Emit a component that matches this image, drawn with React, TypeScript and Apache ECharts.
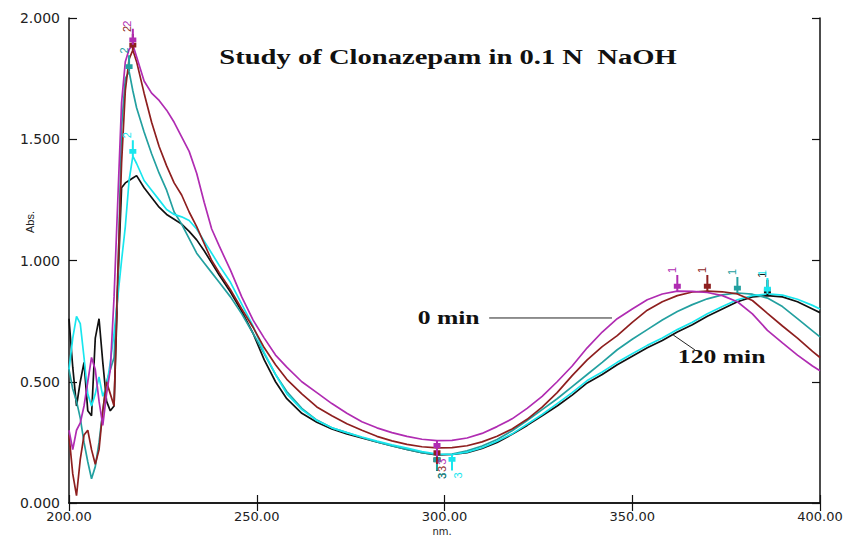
import React, { useEffect, useRef } from "react";
import * as echarts from "echarts";

// Wavelength grid (nm)
const wavelengths = [
  200, 201, 202, 203, 204, 205, 206, 207, 208, 209, 210, 211, 212, 213, 214, 215, 216, 217, 218,
  220, 222, 224, 226, 228, 230, 232, 234, 236, 238, 240,
  243, 246, 249, 252, 255, 258,
  262, 266, 270, 274, 278, 282, 286, 290, 294, 298, 302, 306, 310, 314, 318, 322, 326, 330, 334,
  338, 342, 346, 350, 354, 358, 362, 366, 370, 374, 378, 382, 386, 390, 394, 398,
  400,
];

// Absorbance values
const absMagenta = [
  0.30, 0.22, 0.30, 0.33, 0.40, 0.50, 0.60, 0.55, 0.42, 0.32, 0.45, 0.55, 0.85, 1.25, 1.65, 1.82, 1.87, 1.89, 1.84,
  1.74, 1.69, 1.66, 1.62, 1.57, 1.51, 1.45, 1.36, 1.24, 1.13, 1.06,
  0.96, 0.85, 0.755, 0.68, 0.61, 0.56,
  0.50, 0.455, 0.41, 0.37, 0.335, 0.31, 0.29, 0.275, 0.263, 0.257, 0.258, 0.268, 0.287, 0.315, 0.347, 0.39, 0.44, 0.50, 0.565,
  0.64, 0.705, 0.76, 0.80, 0.838, 0.862, 0.874, 0.873, 0.868, 0.855, 0.83, 0.78, 0.712, 0.66, 0.61, 0.565,
  0.545,
];

const absRed = [
  0.28, 0.12, 0.03, 0.18, 0.28, 0.30, 0.22, 0.16, 0.22, 0.38, 0.50, 0.45, 0.40, 0.95, 1.40, 1.70, 1.83, 1.868, 1.82,
  1.69, 1.57, 1.47, 1.39, 1.32, 1.27, 1.20, 1.14, 1.07, 1.00, 0.95,
  0.88, 0.80, 0.725, 0.64, 0.57, 0.51,
  0.45, 0.396, 0.36, 0.327, 0.30, 0.275, 0.256, 0.242, 0.232, 0.227, 0.228, 0.236, 0.252, 0.275, 0.305, 0.345, 0.395, 0.455, 0.525,
  0.59, 0.645, 0.69, 0.745, 0.795, 0.83, 0.855, 0.870, 0.874, 0.871, 0.862, 0.835, 0.782, 0.73, 0.68, 0.625,
  0.60,
];

const absTeal = [
  0.55, 0.47, 0.42, 0.35, 0.25, 0.17, 0.10, 0.15, 0.25, 0.38, 0.50, 0.55, 0.60, 0.90, 1.55, 1.75, 1.78, 1.70, 1.63,
  1.53, 1.44, 1.36, 1.29, 1.20, 1.15, 1.09, 1.03, 0.99, 0.95, 0.91,
  0.85, 0.78, 0.70, 0.615, 0.53, 0.46,
  0.39, 0.342, 0.31, 0.29, 0.27, 0.252, 0.235, 0.221, 0.208, 0.199, 0.202, 0.215, 0.235, 0.262, 0.298, 0.34, 0.385, 0.43, 0.48,
  0.53, 0.58, 0.632, 0.675, 0.715, 0.755, 0.79, 0.818, 0.842, 0.858, 0.866, 0.861, 0.845, 0.81, 0.76, 0.71,
  0.685,
];

const absCyan = [
  0.55, 0.68, 0.77, 0.74, 0.60, 0.45, 0.40, 0.45, 0.52, 0.44, 0.48, 0.58, 0.70, 0.85, 1.00, 1.14, 1.33, 1.43, 1.40,
  1.33, 1.29, 1.25, 1.21, 1.19, 1.18, 1.165, 1.13, 1.08, 1.03, 0.98,
  0.91, 0.82, 0.73, 0.62, 0.53, 0.45,
  0.385, 0.34, 0.31, 0.29, 0.272, 0.255, 0.24, 0.226, 0.212, 0.202, 0.200, 0.21, 0.228, 0.255, 0.285, 0.325, 0.365, 0.41, 0.455,
  0.505, 0.54, 0.58, 0.615, 0.65, 0.68, 0.715, 0.745, 0.78, 0.81, 0.838, 0.855, 0.862, 0.857, 0.84, 0.815,
  0.80,
];

const absBlack = [
  0.76, 0.56, 0.40, 0.50, 0.58, 0.38, 0.36, 0.68, 0.76, 0.58, 0.42, 0.38, 0.40, 0.90, 1.30, 1.32, 1.33, 1.34, 1.35,
  1.30, 1.26, 1.22, 1.19, 1.17, 1.15, 1.12, 1.085, 1.04, 0.99, 0.94,
  0.87, 0.79, 0.70, 0.59, 0.50, 0.43,
  0.37, 0.333, 0.305, 0.285, 0.268, 0.252, 0.236, 0.221, 0.208, 0.198, 0.200, 0.208, 0.225, 0.25, 0.283, 0.32, 0.36, 0.40, 0.445,
  0.495, 0.53, 0.57, 0.605, 0.64, 0.67, 0.705, 0.735, 0.77, 0.80, 0.83, 0.85, 0.855, 0.85, 0.83, 0.80,
  0.785,
];

const seriesNames = ["0 min", "Scan 2", "Scan 3", "Scan 4", "120 min"];
const yTickLabels = ["0.000", "0.500", "1.000", "1.500", "2.000"];
const xTickLabels = ["200.00", "250.00", "300.00", "350.00", "400.00"];

const TITLE = "Study of Clonazepam in 0.1 N  NaOH";
const X_NAME = "nm.";
const Y_NAME = "Abs.";

const COLORS = {
  magenta: "#b02cb2",
  red: "#8e1f1f",
  teal: "#23a0a0",
  cyan: "#19e6ee",
  black: "#111111",
};

const ARROW =
  "path://M4,0 L6,0 L6,11 L8.5,11 L8.5,17 L6,17 L6,20 L4,20 L4,17 L1.5,17 L1.5,11 L4,11 Z";

function extremeIndex(vals: number[], lo: number, hi: number, mode: "max" | "min") {
  let best = -1;
  for (let i = 0; i < wavelengths.length; i++) {
    const w = wavelengths[i];
    if (w < lo || w > hi) continue;
    if (best < 0) best = i;
    else if (mode === "max" ? vals[i] > vals[best] : vals[i] < vals[best]) best = i;
  }
  return best;
}

function markers(vals: number[], color: string, withLeft: boolean) {
  const mk = (i: number, text: string, up: boolean) => ({
    coord: [wavelengths[i], vals[i]],
    value: text,
    symbol: ARROW,
    symbolSize: [7, 16],
    symbolRotate: up ? 0 : 180,
    symbolOffset: [0, up ? -8 : 8],
    itemStyle: { color },
    label: {
      show: true,
      formatter: text,
      rotate: 90,
      position: up ? "top" : "bottom",
      distance: 5,
      color,
      fontSize: 11,
      fontFamily: "Liberation Sans",
    },
  });
  const data: any[] = [];
  data.push(mk(extremeIndex(vals, 330, 400, "max"), "1", true));
  if (withLeft) data.push(mk(extremeIndex(vals, 212, 240, "max"), "2", true));
  data.push(mk(extremeIndex(vals, 260, 340, "min"), "3", false));
  return data;
}

const seriesDefs = [
  { name: seriesNames[4], vals: absBlack, color: COLORS.black, left: false },
  { name: seriesNames[2], vals: absTeal, color: COLORS.teal, left: true },
  { name: seriesNames[3], vals: absCyan, color: COLORS.cyan, left: true },
  { name: seriesNames[1], vals: absRed, color: COLORS.red, left: true },
  { name: seriesNames[0], vals: absMagenta, color: COLORS.magenta, left: true },
];

// annotation anchors in data coordinates [nm, Abs]
const ANNOT = {
  zeroText: [301.1, 0.763],
  zeroLine: [[311.9, 0.763], [344.6, 0.763]],
  endText: [373.8, 0.602],
  endLine: [[366.7, 0.631], [360.9, 0.693]],
};

export default function App() {
  const ref = useRef<HTMLDivElement>(null);
  useEffect(() => {
    if (!ref.current) return;
    const chart = echarts.init(ref.current, undefined, { renderer: "svg" });
    const axisLine = { show: true, lineStyle: { color: "#111", width: 1.5 } };
    const tick = { show: true, inside: true, length: 8, lineStyle: { color: "#111", width: 1.2 } };
    const labelFont = { fontSize: 14, fontFamily: "DejaVu Sans", color: "#222" };
    chart.setOption({
      animation: false,
      backgroundColor: "#ffffff",
      grid: { left: 69, right: 26, top: 18, bottom: 36, containLabel: false, outerBoundsMode: "none" },
      xAxis: [
        {
          type: "value",
          min: 200,
          max: 400,
          interval: 50,
          position: "bottom",
          axisLine,
          axisTick: tick,
          splitLine: { show: false },
          axisLabel: {
            ...labelFont,
            fontSize: 13,
            lineHeight: 14,
            margin: 6,
            formatter: (v: number) => xTickLabels[Math.round((v - 200) / 50)] ?? v.toFixed(2),
          },
        },
        {
          type: "value",
          min: 200,
          max: 400,
          interval: 50,
          position: "top",
          axisLine,
          axisTick: tick,
          splitLine: { show: false },
          axisLabel: { show: false },
        },
      ],
      yAxis: [
        {
          type: "value",
          min: 0,
          max: 2,
          interval: 0.5,
          position: "left",
          axisLine,
          axisTick: tick,
          splitLine: { show: false },
          axisLabel: {
            ...labelFont,
            margin: 9,
            formatter: (v: number) => yTickLabels[Math.round(v / 0.5)] ?? v.toFixed(3),
          },
        },
        {
          type: "value",
          min: 0,
          max: 2,
          interval: 0.5,
          position: "right",
          axisLine,
          axisTick: tick,
          splitLine: { show: false },
          axisLabel: { show: false },
        },
      ],
      series: seriesDefs.map((s) => ({
        type: "line",
        name: s.name,
        xAxisIndex: 0,
        yAxisIndex: 0,
        data: wavelengths.map((w, i) => [w, s.vals[i]]),
        showSymbol: false,
        smooth: false,
        lineStyle: { color: s.color, width: 1.7 },
        itemStyle: { color: s.color },
        markPoint: { data: markers(s.vals, s.color, s.left), silent: true },
      })),
    });

    const px = (p: number[]) => chart.convertToPixel({ seriesIndex: 0 }, p) as number[];
    const zt = px(ANNOT.zeroText);
    const zl0 = px(ANNOT.zeroLine[0]);
    const zl1 = px(ANNOT.zeroLine[1]);
    const et = px(ANNOT.endText);
    const el0 = px(ANNOT.endLine[0]);
    const el1 = px(ANNOT.endLine[1]);
    const serifBold = (size: number) => ({
      fontSize: size,
      fontWeight: "bold",
      fontFamily: "Liberation Serif",
      fill: "#111",
      align: "center",
      verticalAlign: "middle",
    });

    chart.setOption({
      graphic: [
        { type: "text", x: 448, y: 57, scaleX: 1.3, style: { text: TITLE, ...serifBold(22) } },
        {
          type: "text",
          x: 30,
          y: 222,
          rotation: Math.PI / 2,
          style: {
            text: Y_NAME,
            fontSize: 11,
            fontFamily: "Liberation Sans",
            fill: "#222",
            align: "center",
            verticalAlign: "middle",
          },
        },
        {
          type: "text",
          x: 442,
          y: 531,
          style: {
            text: X_NAME,
            fontSize: 10,
            fontFamily: "DejaVu Sans",
            fill: "#222",
            align: "center",
            verticalAlign: "middle",
          },
        },
        { type: "text", x: zt[0], y: zt[1], scaleX: 1.35, style: { text: "0 min", ...serifBold(19) } },
        {
          type: "line",
          shape: { x1: zl0[0], y1: zl0[1], x2: zl1[0], y2: zl1[1] },
          style: { stroke: "#222", lineWidth: 1 },
        },
        { type: "text", x: et[0], y: et[1], scaleX: 1.35, style: { text: "120 min", ...serifBold(19) } },
        {
          type: "line",
          shape: { x1: el0[0], y1: el0[1], x2: el1[0], y2: el1[1] },
          style: { stroke: "#222", lineWidth: 1 },
        },
      ],
    });

    return () => chart.dispose();
  }, []);
  return (
    <div
      ref={ref}
      style={{ position: "fixed", left: 0, top: 0, width: 846, height: 539, background: "#fff" }}
    />
  );
}
